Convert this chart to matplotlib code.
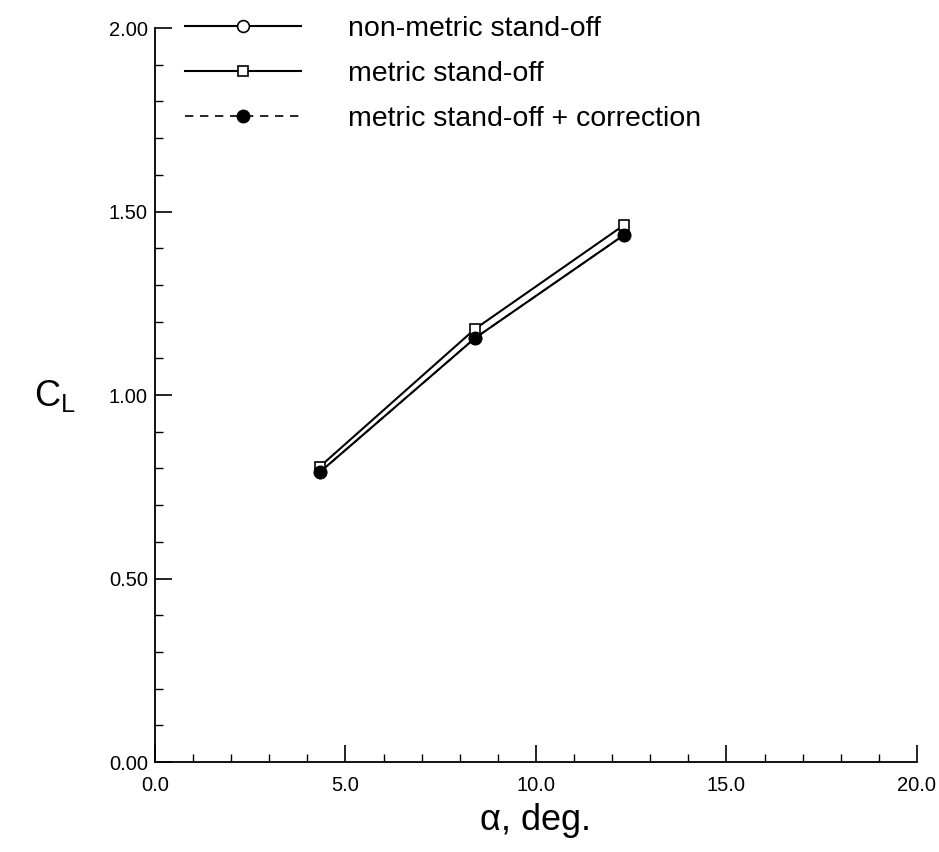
import matplotlib
matplotlib.use("Agg")
import matplotlib.pyplot as plt
from matplotlib.ticker import MultipleLocator, FormatStrFormatter

plt.rcParams['font.family'] = ['Liberation Sans', 'DejaVu Sans']

alpha = [4.33, 8.40, 12.31]
cl_nonmetric = [0.79, 1.155, 1.436]
cl_metric = [0.805, 1.180, 1.463]
cl_corrected = [0.79, 1.155, 1.436]

labels = ["non-metric stand-off", "metric stand-off", "metric stand-off + correction"]

fig = plt.figure(figsize=(9.39, 8.52), dpi=100)
ax = fig.add_axes([0.165, 0.1056, 0.8115, 0.8615])

ax.plot(alpha, cl_nonmetric, '-', color='black', lw=1.5, marker='o', ms=8.5,
        mfc='white', mec='black', mew=1.2, label=labels[0])
ax.plot(alpha, cl_metric, '-', color='black', lw=1.5, marker='s', ms=6.5,
        mfc='white', mec='black', mew=1.2, label=labels[1])
ax.plot(alpha, cl_corrected, '--', color='black', lw=1.2, dashes=(5, 4), marker='o', ms=9,
        mfc='black', mec='black', label=labels[2])

ax.set_xlim(0, 20)
ax.set_ylim(0, 2.0)
ax.xaxis.set_major_locator(MultipleLocator(5))
ax.xaxis.set_minor_locator(MultipleLocator(1))
ax.yaxis.set_major_locator(MultipleLocator(0.5))
ax.yaxis.set_minor_locator(MultipleLocator(0.1))
ax.xaxis.set_major_formatter(FormatStrFormatter('%.1f'))
ax.yaxis.set_major_formatter(FormatStrFormatter('%.2f'))

for s in ['top', 'right']:
    ax.spines[s].set_visible(False)
for s in ['left', 'bottom']:
    ax.spines[s].set_linewidth(1.3)

ax.tick_params(which='major', direction='in', length=12, width=1.2, labelsize=14.5, pad=10)
ax.tick_params(which='minor', direction='in', length=6, width=1.0)
ax.tick_params(axis='y', which='major', pad=5)

ax.set_xlabel('α, deg.', fontsize=26, labelpad=6)
fig.text(0.058, 0.535, r'C$_\mathregular{L}$', fontsize=26, ha='center', va='center')

leg = ax.legend(loc='upper left', bbox_to_anchor=(0.039, 1.016), frameon=False,
                fontsize=20.5, handlelength=4.1, handletextpad=1.65, labelspacing=0.66,
                borderpad=0, borderaxespad=0)

fig.savefig('out.png', dpi=100)
